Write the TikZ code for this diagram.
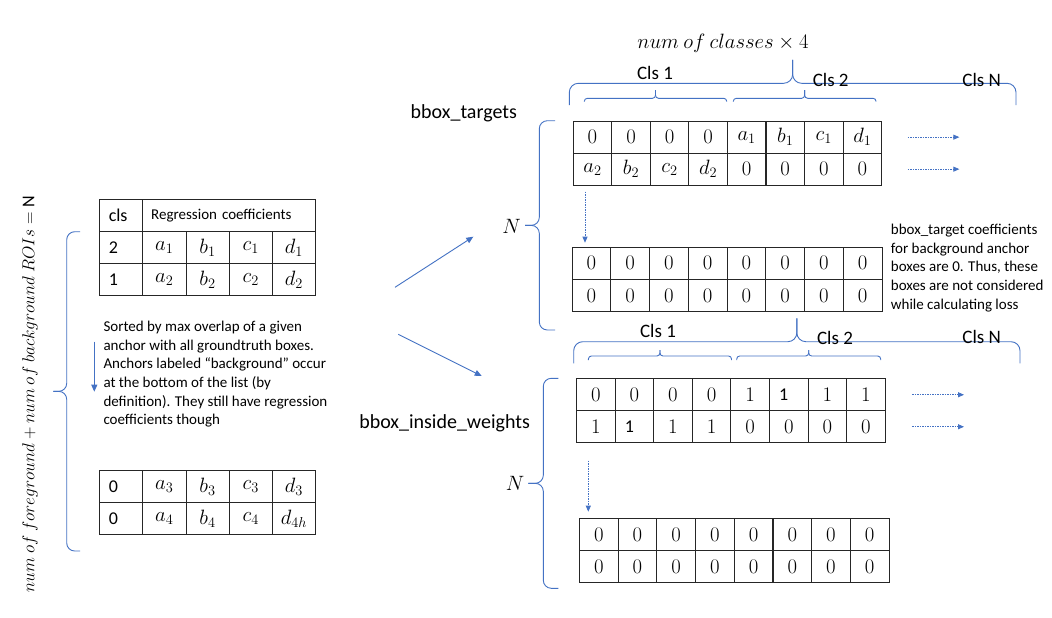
\documentclass[tikz,border=0pt]{standalone}
\usepackage{fontspec}
\setmainfont{Carlito}
\usetikzlibrary{positioning,arrows.meta,calc}
\definecolor{msblue}{RGB}{68,114,196}
\tikzset{
  cell/.style={draw=black!85, line width=0.9pt, minimum width=38.6pt, minimum height=32pt, inner sep=0pt, font=\fontsize{20}{22}\selectfont},
  lcell/.style={cell, minimum width=43.2pt},
  clscell/.style={cell, minimum width=43.6pt, text width=24.4pt, align=left, font=\fontsize{18}{20}\selectfont},
  bracestyle/.style={draw=msblue, line width=0.9pt},
  flow/.style={msblue, line width=0.9pt, -{Triangle[length=7pt,width=6pt]}},
  dotflow/.style={msblue, line width=0.8pt, dash pattern=on 1.5pt off 1pt, -{Triangle[length=6pt,width=5pt]}},
  clslabel/.style={font=\fontsize{19}{21}\selectfont},
  arrlabel/.style={font=\fontsize{20}{22}\selectfont},
  note/.style={font=\fontsize{15}{18.6}\selectfont, align=left, inner sep=0pt}
}
\newcommand{\topbrace}[6]{%
  \draw[bracestyle, rounded corners=#6] (#1,#3) -- (#1,#4) -- ({(#1+#2)/2},#4) -- ({(#1+#2)/2},#5);
  \draw[bracestyle, rounded corners=#6] (#2,#3) -- (#2,#4) -- ({(#1+#2)/2},#4) -- ({(#1+#2)/2},#5);
}
\newcommand{\leftbrace}[6]{%
  \draw[bracestyle, rounded corners=#6] (#4,#2) -- (#1,#2) -- (#1,{(#2+#3)/2}) -- (#5,{(#2+#3)/2});
  \draw[bracestyle, rounded corners=#6] (#4,#3) -- (#1,#3) -- (#1,{(#2+#3)/2}) -- (#5,{(#2+#3)/2});
}
\begin{document}
\begin{tikzpicture}[x=1pt,y=-1pt]
\useasboundingbox[fill=white] (0,0) rectangle (1052,618);
\node[rotate=90, font=\fontsize{18}{20}\selectfont] (roilabel) at (30,394) {$num\ of\ foreground + num\ of\ background\ ROIs = \mbox{N}$};
\leftbrace{66.7}{231.7}{551}{80}{53.3}{8}
\node[clscell, anchor=north west] (lhead) at (98.7,199.3) {cls};
\node[lcell, minimum width=172.8pt, text width=156pt, align=left, font=\fontsize{15}{18}\selectfont, anchor=north west] (lregr) at (142.3,199.3) {Regression coefficients};
\foreach \r/\k/\i/\j [count=\n] in {231.3/2/1/1, 263.3/1/2/2, 470/0/3/3, 502/0/4/4h} {
  \node[clscell, anchor=north west] (lc-\n) at (98.7,\r) {\k};
  \foreach \v/\s [count=\c] in {a/\i, b/\i, c/\i, d/\j}
    \node[lcell, anchor=north west] (lr-\n-\c) at ({142.3+43.2*(\c-1)},\r) {$\v_{\s}$};
}
\node[note, anchor=north west] (sortnote) at (103.3,321) {Sorted by max overlap of a given\\anchor with all groundtruth boxes.\\Anchors labeled “background” occur\\at the bottom of the list (by\\definition). They still have regression\\coefficients though};
\coordinate (sorttop) at (94.3,341.7);
\coordinate (sortbot) at (94.3,391.7);
\draw[flow] (sorttop) -- (sortbot);
\coordinate (splitup) at (395,287.3);
\coordinate (tgtin) at (473.3,236.7);
\coordinate (splitdown) at (398.3,334.3);
\coordinate (wgtin) at (481.7,376);
\draw[flow] (splitup) -- (tgtin);
\draw[flow] (splitdown) -- (wgtin);
\node[arrlabel] (tgtlabel) at (463.8,113.3) {bbox\_targets};
\node[arrlabel] (wgtlabel) at (444.6,423.3) {bbox\_inside\_weights};
\node[font=\fontsize{19.5}{22}\selectfont] (ncls) at (723,43) {$num\ of\ classes \times 4$};
\topbrace{569.3}{1016}{105}{83.3}{60}{9}
\topbrace{584.3}{726.7}{101.7}{98.3}{90}{3}
\topbrace{733.3}{876}{101.7}{98.3}{90}{3}
\node[clslabel] (tcls1) at (655,73.3) {Cls 1};
\node[clslabel] (tcls2) at (830.7,80) {Cls 2};
\node[clslabel] (tclsn) at (981.7,80) {Cls N};
\leftbrace{539.3}{120.7}{330}{555}{525}{8}
\node[font=\fontsize{21}{23}\selectfont] (ntgt) at (511.7,226) {$N$};
\foreach \v [count=\c] in {0,0,0,0,a_1,b_1,c_1,d_1}
  \node[cell, anchor=north west] (tg-1-\c) at ({572.7+38.55*(\c-1)},120.7) {$\v$};
\foreach \v [count=\c] in {a_2,b_2,c_2,d_2,0,0,0,0}
  \node[cell, anchor=north west] (tg-2-\c) at ({572.7+38.55*(\c-1)},152.7) {$\v$};
\foreach \c in {1,...,8} {
  \node[cell, anchor=north west] (tb-1-\c) at ({571.7+38.75*(\c-1)},246.7) {$0$};
  \node[cell, anchor=north west] (tb-2-\c) at ({571.7+38.75*(\c-1)},279.2) {$0$};
}
\foreach \r in {1,2} {
  \coordinate (tgarr-\r) at ($(tg-\r-8.east)+(25.7,0)$);
  \draw[dotflow] (tgarr-\r) -- ++(51.6,0) coordinate (tgend-\r);
}
\coordinate (tgdown) at (585,191.7);
\coordinate (tbtop) at (585,242.7);
\draw[dotflow] (tgdown) -- (tbtop);
\node[note, anchor=north west] (bgnote) at (890.7,224) {bbox\_target coefficients\\for background anchor\\boxes are 0. Thus, these\\boxes are not considered\\while calculating loss};
\topbrace{573.7}{1020}{363.3}{341.7}{318.3}{9}
\topbrace{588.4}{731.5}{360}{356}{350}{3}
\topbrace{736.7}{880.7}{360}{356}{350}{3}
\node[clslabel] (wcls1) at (658,331) {Cls 1};
\node[clslabel] (wcls2) at (835,338.3) {Cls 2};
\node[clslabel] (wclsn) at (981.7,337.3) {Cls N};
\leftbrace{543.3}{378.3}{588.3}{558.3}{528.3}{8}
\node[font=\fontsize{21}{23}\selectfont] (nwgt) at (515,483.3) {$N$};
\foreach \v [count=\c] in {0,0,0,0,1,{\mbox{\fontsize{18}{20}\selectfont 1}\hspace{10pt}},1,1}
  \node[cell, anchor=north west] (wg-1-\c) at ({576+38.6*(\c-1)},378.3) {$\v$};
\foreach \v [count=\c] in {1,{\mbox{\fontsize{18}{20}\selectfont 1}\hspace{10pt}},1,1,0,0,0,0}
  \node[cell, anchor=north west] (wg-2-\c) at ({576+38.6*(\c-1)},410.3) {$\v$};
\foreach \r in {1,2} {
  \coordinate (wgarr-\r) at ($(wg-\r-8.east)+(26.7,0)$);
  \draw[dotflow] (wgarr-\r) -- ++(51.6,0) coordinate (wgend-\r);
}
\coordinate (wgdown) at (588.3,460.7);
\coordinate (wztop) at (588.3,511.7);
\draw[dotflow] (wgdown) -- (wztop);
\foreach \c in {1,...,8} {
  \node[cell, anchor=north west] (wz-1-\c) at ({579+38.7*(\c-1)},518.3) {$0$};
  \node[cell, anchor=north west] (wz-2-\c) at ({579+38.7*(\c-1)},550) {$0$};
}
\end{tikzpicture}
\end{document}
